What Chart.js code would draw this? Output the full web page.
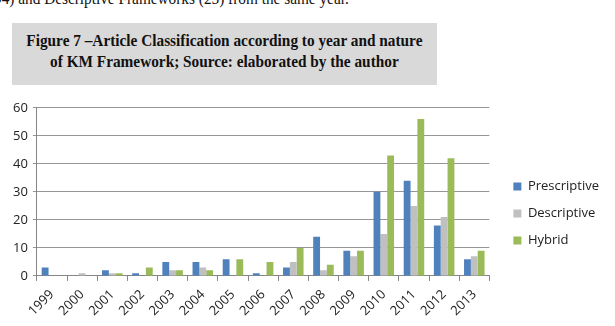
<!DOCTYPE html>
<html>
<head>
<meta charset="utf-8">
<script src="https://cdn.jsdelivr.net/npm/chart.js@4"></script>
<style>
  html, body { margin: 0; padding: 0; background: #fff; }
  body { width: 615px; height: 326px; position: relative; overflow: hidden; }
  .top-line {
    position: absolute; left: -6px; top: -11px; white-space: nowrap;
    font-family: "Liberation Serif", "DejaVu Serif", serif; font-size: 17px; color: #111;
    transform: scaleX(0.9); transform-origin: 0 0;
  }
  .caption {
    position: absolute; left: 12px; top: 23px; width: 425px; height: 62px;
    background: #d9d9d9;
  }
  .caption div {
    position: absolute; left: 0; top: 7px; width: 472px; white-space: nowrap;
    font-family: "Liberation Serif", serif; font-weight: bold; font-size: 17px;
    line-height: 21px; text-align: center; color: #111;
    transform: scaleX(0.9); transform-origin: 0 0;
  }
  .chart-box { position: absolute; left: 0; top: 95px; width: 615px; height: 231px; }
</style>
</head>
<body>
<div class="top-line">94) and Descriptive Frameworks (25) from the same year.</div>
<div class="caption"><div>Figure 7 –Article Classification according to year and nature<br>of KM Framework; Source: elaborated by the author</div></div>
<div class="chart-box"><canvas id="chart"></canvas></div>
<script>
'use strict';

const years = ['1999', '2000', '2001', '2002', '2003', '2004', '2005', '2006',
               '2007', '2008', '2009', '2010', '2011', '2012', '2013'];
const prescriptive = [3, 0, 2, 1, 5, 5, 6, 1, 3, 14, 9, 30, 34, 18, 6];
const descriptive  = [0, 1, 1, 0, 2, 3, 0, 0, 5, 2, 7, 15, 25, 21, 7];
const hybrid       = [0, 0, 1, 3, 2, 2, 6, 5, 10, 4, 9, 43, 56, 42, 9];
const yTicks = [0, 10, 20, 30, 40, 50, 60];

const LEGEND_GAP = 10;
const font = { family: '"Open Sans", "Liberation Sans", sans-serif', size: 13 };

// widen the legend box on its left side so there is more room between plot and legend
const legendGap = {
  id: 'legendGap',
  beforeUpdate(chart) {
    const lg = chart.legend;
    if (!lg || lg._gapPatched) return;
    const fit = lg.fit.bind(lg);
    const draw = lg.draw.bind(lg);
    lg.fit = function () { fit(); this.width += LEGEND_GAP; };
    lg.draw = function () {
      const c = this.ctx;
      c.save(); c.translate(LEGEND_GAP, 0); draw(); c.restore();
    };
    lg._gapPatched = true;
  }
};

const ctx = document.getElementById('chart').getContext('2d');

new Chart(ctx, {
  type: 'bar',
  data: {
    labels: years,
    datasets: [
      { label: 'Prescriptive', data: prescriptive, backgroundColor: '#4f81bd' },
      { label: 'Descriptive',  data: descriptive,  backgroundColor: '#c0c0c0' },
      { label: 'Hybrid',       data: hybrid,       backgroundColor: '#9bbb59' }
    ]
  },
  plugins: [legendGap],
  options: {
    responsive: true, maintainAspectRatio: false, animation: false,
    layout: { padding: { top: 7, right: 6, left: 8, bottom: 1 } },
    datasets: { bar: { barPercentage: 1.0, categoryPercentage: 0.68 } },
    plugins: {
      tooltip: { enabled: false },
      legend: {
        position: 'right',
        labels: {
          color: '#222', font: { ...font, size: 13 },
          boxWidth: 8, boxHeight: 8, padding: 14
        }
      }
    },
    scales: {
      x: {
        grid: { drawOnChartArea: false, drawTicks: true, tickLength: 5, color: '#868686' },
        border: { color: '#868686' },
        ticks: { color: '#222', font, minRotation: 45, maxRotation: 45, padding: 6 }
      },
      y: {
        min: 0, max: 60,
        afterBuildTicks: axis => { axis.ticks = yTicks.map(v => ({ value: v })); },
        grid: { color: '#969696', tickLength: 4 },
        border: { color: '#868686' },
        ticks: { color: '#222', font: { ...font, size: 13 }, padding: 5 }
      }
    }
  }
});
</script>
</body>
</html>
